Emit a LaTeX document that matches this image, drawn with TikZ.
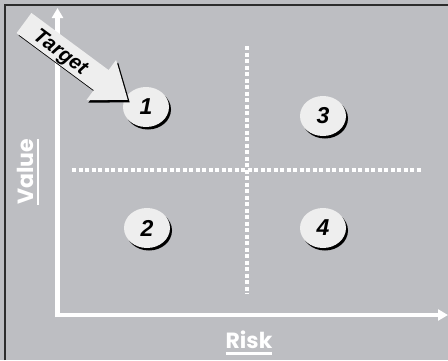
\documentclass[tikz,border=0pt]{standalone}
\usepackage{fontspec}
\setmainfont{Liberation Sans}
\newfontfamily\axisfont{Poppins}
\usetikzlibrary{shapes.geometric,arrows.meta,shadows}

\definecolor{panelgray}{RGB}{189,190,194}
\definecolor{bubblefill}{RGB}{238,238,238}
\definecolor{framegray}{RGB}{45,45,45}

\newcommand\thickul[1]{\vtop{\hbox{#1}\kern3.5pt\hrule height 2.6pt}}

\begin{document}
\begin{tikzpicture}[x=1pt,y=-1pt,
  raised/.style={copy shadow={shadow xshift=2pt, shadow yshift=-2.5pt, fill=black, opacity=1, draw=none}},
  bubble/.style={ellipse, fill=bubblefill, raised, minimum width=46, minimum height=40, inner sep=0pt,
    font=\fontsize{23}{23}\selectfont\bfseries\itshape},
  axisline/.style={white, line width=4.5pt, shorten <=-2.25pt, -{Triangle[length=10pt,width=11pt]}},
  divider/.style={white, line width=4pt, dash pattern=on 4pt off 2.5pt},
  axislabel/.style={white, inner sep=0pt, font=\axisfont\fontsize{22}{22}\selectfont\bfseries}]
  \useasboundingbox (0,0) rectangle (448,360);
  \fill[panelgray] (0,0) rectangle (448,360);
  \draw[framegray, line width=2pt] (4.5,360) -- (4.5,4.5) -- (448,4.5);

  % axes
  \coordinate (origin) at (57.5,315);
  \coordinate (ytop) at (57.5,8);
  \coordinate (xend) at (448,315);
  \draw[axisline] (origin) -- (ytop);
  \draw[axisline] (origin) -- (xend);
  \node[axislabel] (risk) at (249,343) {\thickul{Risk}};
  \node[axislabel, rotate=90] (value) at (28,172) {\thickul{Value}};

  % quadrant dividers
  \coordinate (vtop) at (247,46);
  \coordinate (vbot) at (247,294);
  \coordinate (hleft) at (72,169.5);
  \coordinate (hright) at (421,169.5);
  \draw[divider] (vtop) -- (vbot);
  \draw[divider] (hleft) -- (hright);

  % quadrants
  \node[bubble] (q1) at (146,107) {1};
  \node[bubble] (q3) at (323,116) {3};
  \node[bubble] (q2) at (147,228) {2};
  \node[bubble] (q4) at (323,228) {4};

  % target arrow
  \fill[bubblefill, raised] (31.4,12.95) -- (108.6,70.05) -- (116.1,60) -- (127.7,99.8)
    -- (86.3,100.2) -- (93.8,90.15) -- (16.6,33.05) -- cycle;
  \node[rotate=-36.5, inner sep=0pt, font=\fontsize{20.5}{20.5}\selectfont\bfseries\itshape] (target) at (60,53) {Target};
\end{tikzpicture}
\end{document}
